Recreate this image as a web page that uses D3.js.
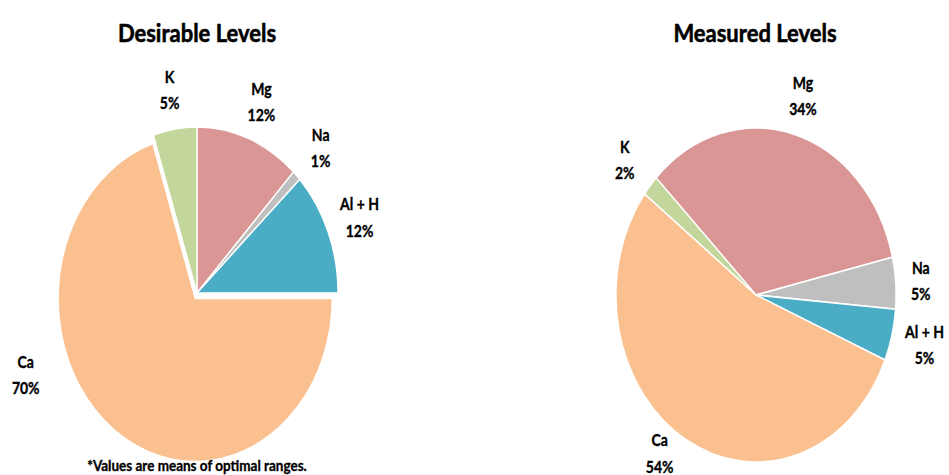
<!DOCTYPE html>
<html><head><meta charset="utf-8">
<script src="https://cdn.jsdelivr.net/npm/d3@7"></script>
<style>
html,body{margin:0;padding:0;background:#fff;}
svg{display:block;}
text{font-family:Lato,"Open Sans",sans-serif;font-weight:bold;fill:#000;}
</style></head>
<body>
<svg id="chart" width="949" height="475"></svg>
<script>
// ---- data ----
const categories = ["Mg", "Na", "Al + H", "Ca", "K"];
const desirableValues = [12, 1, 12, 70, 5];
const measuredValues = [34, 5, 5, 54, 2];
const chartTitles = ["Desirable Levels", "Measured Levels"];
const footnote = "*Values are means of optimal ranges.";
const colors = ["#D99694", "#BFBFBF", "#4BACC6", "#FAC090", "#C3D69B"];

// ---- layout ----
const svg = d3.select("#chart");
const deg = Math.PI / 180;
const charts = [
  {title: chartTitles[0], values: desirableValues, cx: 197, cy: 293, rx: 141, ry: 166, start: 0,
   // exploded slice: offset and its own radii
   sliceGeom: {"Ca": {dx: -1.8, dy: 5.5, rx: 137, ry: 163}},
   labelAngle: {"Ca": 248}, labelR: {"Ca": 1.31}, titleX: 197},
  {title: chartTitles[1], values: measuredValues, cx: 756, cy: 295, rx: 140, ry: 167, start: -45.5,
   sliceGeom: {},
   labelAngle: {"Ca": 216}, labelR: {"Na": 1.18, "Ca": 1.17}, titleX: 755}
];

const color = d3.scaleOrdinal().domain(categories).range(colors);

charts.forEach(c => {
  const pie = d3.pie().sort(null).value(d => d.v)
    .startAngle(c.start * deg).endAngle((c.start + 360) * deg);
  const data = pie(categories.map((k, i) => ({k, v: c.values[i]})));

  svg.append("text").attr("x", c.titleX).attr("y", 42)
    .attr("text-anchor", "middle").attr("font-size", 22)
    .attr("stroke", "#000").attr("stroke-width", 0.5)
    .attr("transform", `translate(0,${42 - 42 * 1.15}) scale(1,1.15)`)
    .text(c.title);

  const g = svg.append("g");
  g.selectAll("path").data(data).join("path")
    .each(function(d) {
      const s = c.sliceGeom[d.data.k] || {dx: 0, dy: 0, rx: c.rx, ry: c.ry};
      const arc = d3.arc().innerRadius(0).outerRadius(s.rx);
      d3.select(this)
        .attr("d", arc(d))
        .attr("transform", `translate(${c.cx + s.dx},${c.cy + s.dy}) scale(1,${s.ry / s.rx})`);
    })
    .attr("fill", d => color(d.data.k))
    .attr("stroke", "#fff").attr("stroke-width", 1.3)
    .attr("stroke-linejoin", "miter");

  // labels
  const lg = svg.append("g");
  data.forEach(d => {
    const a = c.labelAngle[d.data.k] !== undefined ? c.labelAngle[d.data.k] * deg
      : (d.startAngle + d.endAngle) / 2;
    const r = c.labelR[d.data.k] || 1.24;
    const x = c.cx + c.rx * r * Math.sin(a);
    const y = c.cy - c.ry * r * Math.cos(a);
    const t = lg.append("text").attr("text-anchor", "middle").attr("font-size", 14)
      .attr("stroke", "#000").attr("stroke-width", 0.3)
      .attr("transform", `translate(${x},${y}) scale(1,1.15)`);
    t.append("tspan").attr("x", 0).attr("y", -6).text(d.data.k);
    t.append("tspan").attr("x", 0).attr("y", 17).text(d.data.v + "%");
  });
});

svg.append("text").attr("x", 197).attr("y", 0)
  .attr("text-anchor", "middle").attr("font-size", 13.5)
  .attr("stroke", "#000").attr("stroke-width", 0.3)
  .attr("transform", "translate(0,471) scale(1,1.1)")
  .text(footnote);
</script>
</body></html>
